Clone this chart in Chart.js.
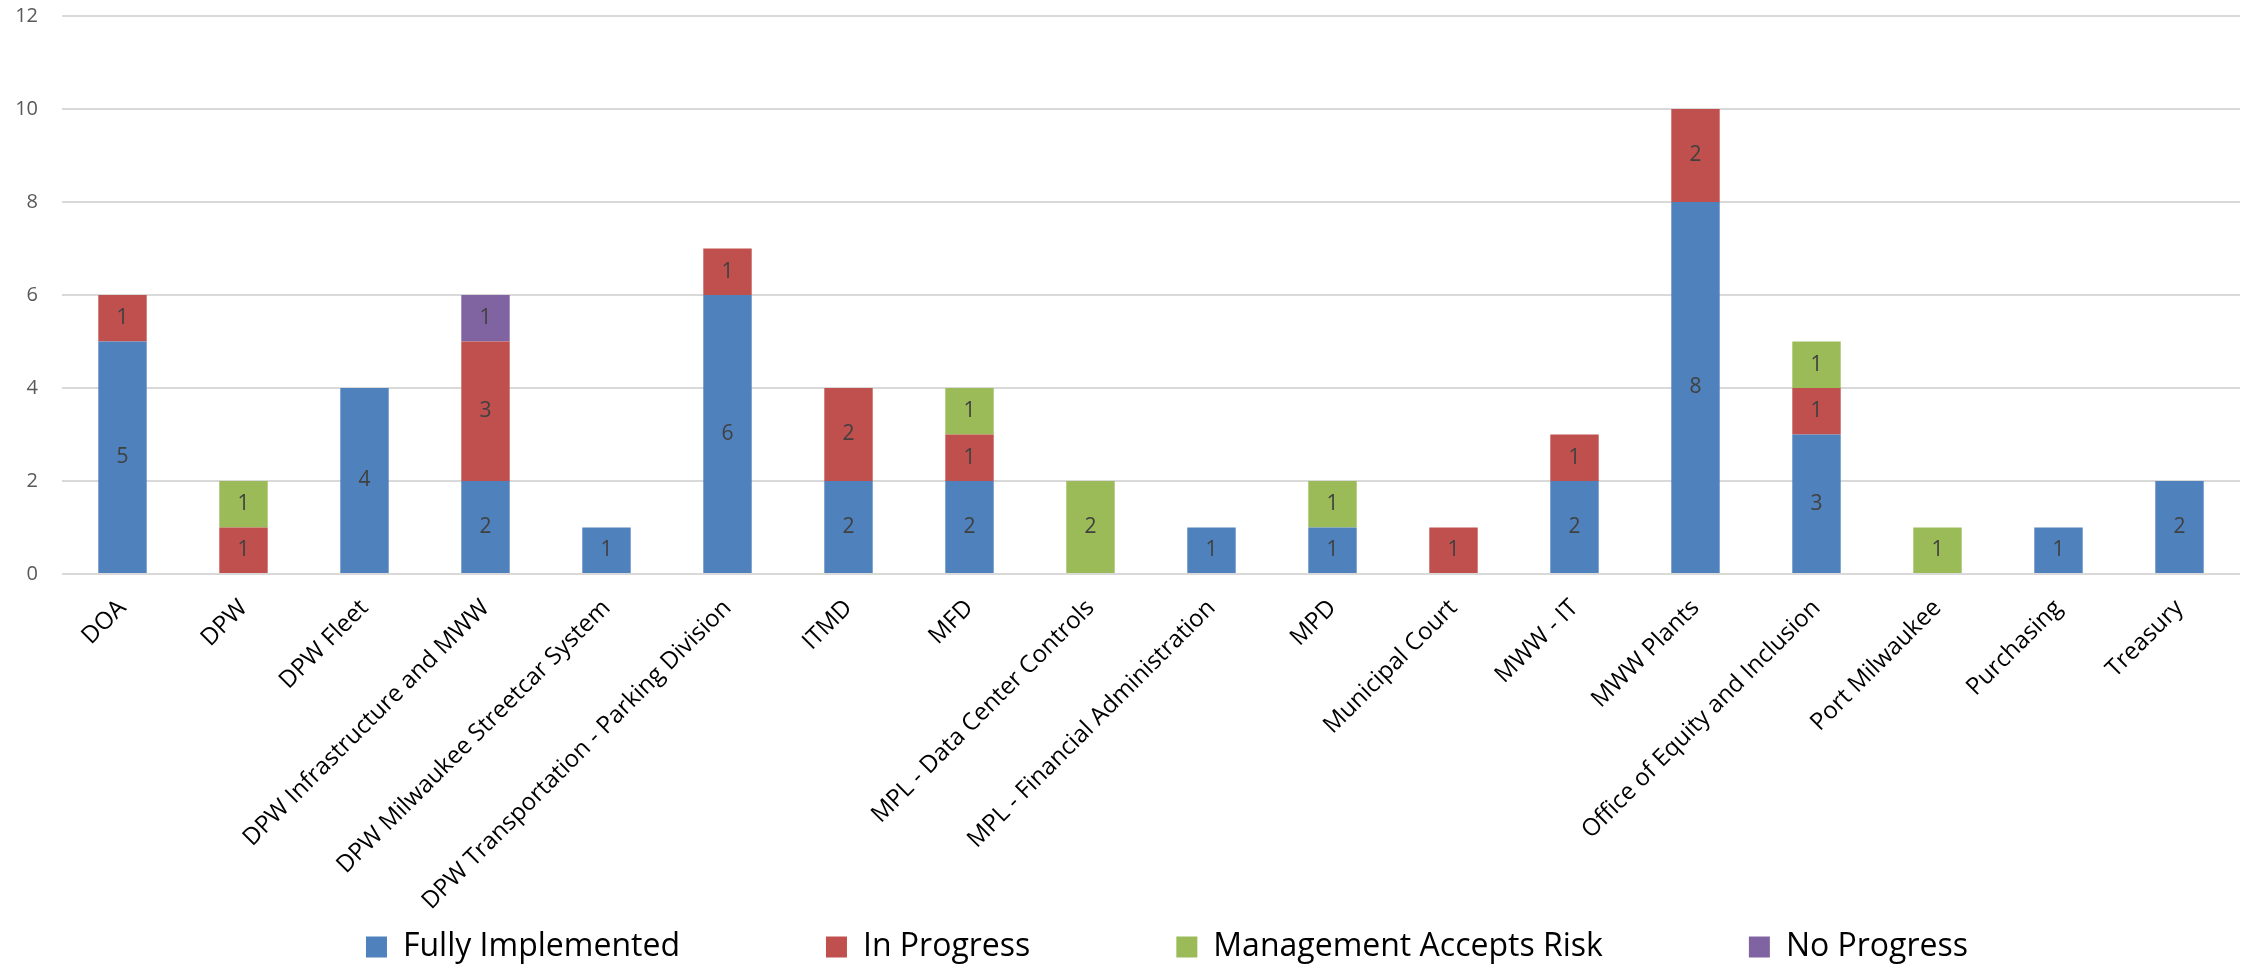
<!DOCTYPE html>
<html>
<head>
<meta charset="utf-8">
<title>Audit Recommendations by Department</title>
<script src="https://cdn.jsdelivr.net/npm/chart.js@4.4.1/dist/chart.umd.min.js"></script>
<style>
  html, body { margin: 0; padding: 0; background: #fff; }
  #wrap { width: 2244px; height: 966px; position: relative; }
</style>
</head>
<body>
<div id="wrap"><canvas id="statusChart" width="2244" height="966"></canvas></div>
<script>
// ---- data ----
const departments = [
  "DOA", "DPW", "DPW Fleet", "DPW Infrastructure and MWW",
  "DPW Milwaukee Streetcar System", "DPW Transportation - Parking Division",
  "ITMD", "MFD", "MPL - Data Center Controls", "MPL - Financial Administration",
  "MPD", "Municipal Court", "MWW - IT", "MWW Plants",
  "Office of Equity and Inclusion", "Port Milwaukee", "Purchasing", "Treasury"
];
const fullyImplemented = [5, null, 4, 2, 1, 6, 2, 2, null, 1, 1, null, 2, 8, 3, null, 1, 2];
const inProgress       = [1, 1, null, 3, null, 1, 2, 1, null, null, null, 1, 1, 2, 1, null, null, null];
const mgmtAcceptsRisk  = [null, 1, null, null, null, null, null, 1, 2, null, 1, null, null, null, 1, 1, null, null];
const noProgress       = [null, null, null, 1, null, null, null, null, null, null, null, null, null, null, null, null, null, null];
const yTicks = [0, 2, 4, 6, 8, 10, 12];

const FONT = "'Open Sans', 'Noto Sans', sans-serif";
const LEGEND_TOP = 785;

// value labels centred in each stacked segment
const segmentLabels = {
  id: "segmentLabels",
  afterDatasetsDraw(chart) {
    const ctx = chart.ctx;
    ctx.save();
    ctx.font = "21px " + FONT;
    ctx.fillStyle = "#404040";
    ctx.textAlign = "center";
    ctx.textBaseline = "middle";
    chart.data.datasets.forEach((ds, i) => {
      const meta = chart.getDatasetMeta(i);
      meta.data.forEach((bar, j) => {
        const v = ds.data[j];
        if (v == null) return;
        ctx.fillText(String(v), bar.x, (bar.y + bar.base) / 2);
      });
    });
    ctx.restore();
  }
};

// place the legend row below the rotated labels, a little right of centre
const legendPlace = {
  id: "legendPlace",
  afterLayout(chart) {
    const lg = chart.legend;
    if (!lg) return;
    lg.top = LEGEND_TOP;
    lg.bottom = chart.height;
    lg.height = chart.height - LEGEND_TOP;
    lg.left += 47;
    lg.right += 47;
  }
};

new Chart(document.getElementById("statusChart"), {
  type: "bar",
  data: {
    labels: departments,
    datasets: [
      { label: "Fully Implemented", data: fullyImplemented, backgroundColor: "#4F81BD" },
      { label: "In Progress", data: inProgress, backgroundColor: "#C0504D" },
      { label: "Management Accepts Risk", data: mgmtAcceptsRisk, backgroundColor: "#9BBB59" },
      { label: "No Progress", data: noProgress, backgroundColor: "#8064A2" }
    ]
  },
  options: {
    responsive: false,
    animation: false,
    devicePixelRatio: 1,
    categoryPercentage: 1.0,
    barPercentage: 0.4,
    layout: { padding: { left: 0, right: 4, top: 16, bottom: 0 } },
    plugins: {
      tooltip: { enabled: false },
      legend: {
        position: "bottom",
        maxHeight: 30,
        labels: {
          font: { family: FONT, size: 32 },
          color: "#000000",
          boxWidth: 21,
          boxHeight: 21,
          padding: 146
        }
      }
    },
    scales: {
      x: {
        stacked: true,
        grid: { display: false },
        border: { display: false },
        ticks: {
          autoSkip: false,
          minRotation: 45,
          maxRotation: 45,
          padding: 12,
          color: "#000000",
          font: { family: FONT, size: 24 }
        },
        afterFit(scale) { scale.height = 362; }
      },
      y: {
        stacked: true,
        min: 0,
        max: 12,
        afterBuildTicks(scale) { scale.ticks = yTicks.map(v => ({ value: v })); },
        grid: { color: "#D9D9D9", lineWidth: 2, drawTicks: false },
        border: { display: false },
        ticks: {
          padding: 24,
          color: "#595959",
          font: { family: FONT, size: 20 }
        },
        afterFit(scale) {
          scale.width = 62;
          scale.paddingTop = 0;
          scale.paddingBottom = 0;
        }
      }
    }
  },
  plugins: [segmentLabels, legendPlace]
});
</script>
</body>
</html>
